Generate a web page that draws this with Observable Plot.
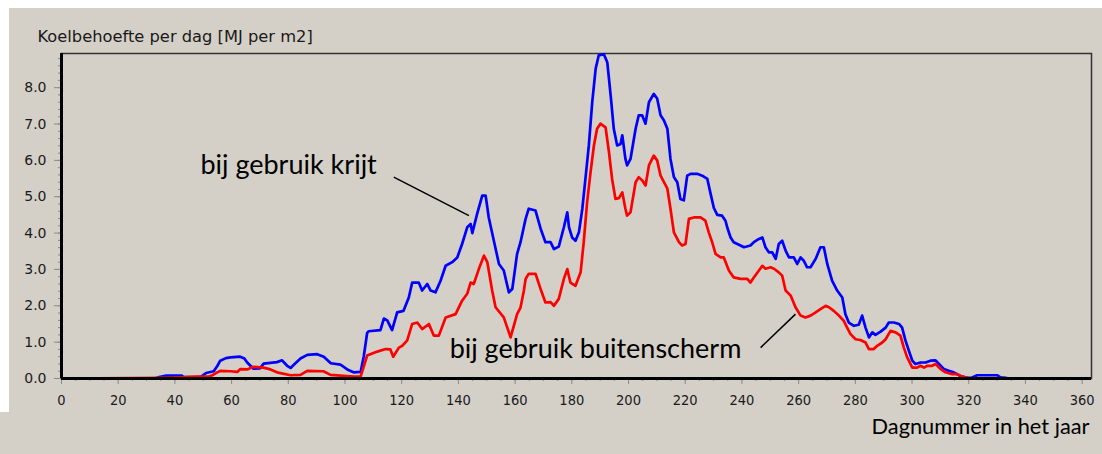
<!DOCTYPE html>
<html>
<head>
<meta charset="utf-8">
<script src="https://cdn.jsdelivr.net/npm/d3@7"></script>
<script src="https://cdn.jsdelivr.net/npm/@observablehq/plot@0.6"></script>
<style>
  html, body { margin: 0; padding: 0; background: #ffffff; }
  #chart { width: 1102px; height: 454px; }
</style>
</head>
<body>
<div id="chart"></div>
<script>
// ---- Data ----
const title = "Koelbehoefte per dag [MJ per m2]";
const xTitle = "Dagnummer in het jaar";

const xTicks = [0, 20, 40, 60, 80, 100, 120, 140, 160, 180, 200, 220, 240, 260, 280, 300, 320, 340, 360];
const yTicks = [0, 1, 2, 3, 4, 5, 6, 7, 8];

// "bij gebruik krijt" (blue)
const krijtDays = [0, 33, 34, 37, 42.5, 43, 49, 51, 53.7, 55, 56, 58, 59.6, 63, 64.5, 65.5, 67.7, 70, 71.3, 76, 77.8, 79.6, 80.8, 82.5, 84.3, 86.7, 90.2, 92.5, 95, 98.4, 100.8, 103, 105.5, 106.6, 107.8, 108.3, 112.5, 113.7, 114.9, 116.6, 118.4, 120.6, 122.5, 123.7, 126, 127.2, 129, 130.2, 131.9, 133.7, 135.5, 137.8, 139.6, 141.3, 143.1, 144.3, 144.9, 146.6, 148.4, 149.6, 150.7, 152.5, 154.3, 156, 157.8, 159, 160.7, 161.9, 163.7, 164.8, 167.2, 169, 170.7, 172.5, 173.7, 175.4, 177.2, 178.4, 179, 180.1, 181.3, 182.5, 183.7, 184.8, 186, 187.2, 188.4, 189.5, 191.3, 192.5, 193.1, 193.7, 194.8, 196, 197.2, 197.8, 198.9, 199.5, 200.7, 202.5, 203.6, 204.8, 206, 207.2, 208.9, 210.1, 211.3, 212.5, 213.7, 214.8, 216, 217.2, 218.3, 219.5, 220.7, 221.9, 224.2, 226, 227.8, 228.9, 230.1, 231.3, 233, 234.2, 234.8, 236, 237.1, 239.5, 240.7, 243, 244.2, 246, 247.2, 248.3, 249.5, 250.7, 251.9, 253, 254.2, 255.4, 256.6, 258.3, 259.5, 260.7, 261.8, 263, 264.2, 266, 267.7, 268.9, 270.1, 271.8, 273.6, 275.4, 276.5, 277.7, 279.5, 281.2, 282.4, 283.6, 284.8, 286, 287.1, 288.9, 290.7, 291.8, 293.6, 295.4, 296.5, 297.7, 298.9, 300.1, 301.2, 303, 304.8, 306.5, 308.3, 309.5, 311.2, 313, 314.7, 317.1, 319.5, 321, 323, 330, 331.2, 333, 334, 363.3];
const krijtValues = [0, 0, 0.03, 0.08, 0.08, 0.04, 0.04, 0.15, 0.2, 0.35, 0.49, 0.56, 0.58, 0.6, 0.55, 0.44, 0.27, 0.28, 0.41, 0.45, 0.5, 0.35, 0.29, 0.42, 0.55, 0.65, 0.67, 0.6, 0.42, 0.38, 0.25, 0.17, 0.18, 0.6, 1.25, 1.3, 1.33, 1.65, 1.6, 1.33, 1.82, 1.86, 2.23, 2.64, 2.64, 2.42, 2.6, 2.42, 2.37, 2.69, 3.1, 3.2, 3.33, 3.7, 4.16, 4.25, 4.0, 4.53, 5.03, 5.03, 4.43, 3.79, 3.15, 2.97, 2.37, 2.46, 3.43, 3.75, 4.39, 4.67, 4.62, 4.12, 3.75, 3.75, 3.56, 3.63, 4.16, 4.57, 4.16, 3.88, 3.79, 4.02, 4.67, 5.49, 6.41, 7.6, 8.52, 8.89, 8.92, 8.7, 8.25, 7.79, 6.87, 6.41, 6.45, 6.69, 6.04, 5.86, 6.04, 6.87, 7.24, 7.24, 7.01, 7.6, 7.83, 7.7, 7.24, 7.1, 6.87, 6.04, 5.54, 5.4, 4.94, 4.9, 5.58, 5.63, 5.63, 5.58, 5.49, 5.1, 4.69, 4.5, 4.48, 4.34, 4.16, 3.88, 3.75, 3.66, 3.61, 3.66, 3.75, 3.84, 3.88, 3.61, 3.47, 3.47, 3.29, 3.7, 3.79, 3.52, 3.33, 3.33, 3.15, 3.33, 3.24, 3.06, 3.06, 3.29, 3.61, 3.61, 3.15, 2.69, 2.42, 2.23, 1.77, 1.54, 1.45, 1.48, 1.73, 1.4, 1.13, 1.27, 1.2, 1.29, 1.4, 1.54, 1.54, 1.5, 1.4, 1.04, 0.76, 0.49, 0.4, 0.44, 0.44, 0.49, 0.5, 0.4, 0.26, 0.21, 0.17, 0.07, 0.02, 0.02, 0.09, 0.09, 0.03, 0.02, 0, 0];

// "bij gebruik buitenscherm" (red)
const schermDays = [0, 37, 42, 48, 52, 53, 54.5, 56, 59.6, 62, 63.1, 65.5, 67.7, 71.3, 73.7, 76, 80.8, 84.3, 86.7, 92.4, 94.9, 98.4, 103, 105.5, 106.5, 107.8, 111.4, 114.3, 116, 117, 119, 120.2, 121.9, 123.7, 125.5, 127.2, 129.6, 131.3, 133.1, 135.5, 139, 141.3, 143.1, 144.3, 145.4, 147.2, 149, 150.2, 151.9, 153.1, 156, 158.4, 160.7, 161.9, 163.1, 163.7, 164.8, 167.2, 169, 170.7, 172.5, 173.7, 175.4, 177.2, 178.4, 179.5, 181.3, 183.1, 184.2, 185.4, 186.6, 187.8, 188.9, 190.1, 191.9, 193.1, 194.2, 195.4, 196.6, 197.8, 198.9, 199.5, 200.7, 202.5, 203.6, 204.8, 206, 207.2, 208.9, 210.1, 211.3, 212.5, 213.7, 214.8, 216, 217.8, 218.9, 220.1, 221.3, 223, 225.4, 227.1, 228.3, 229.5, 230.7, 232.5, 233.6, 235.4, 237.1, 239.5, 241.9, 243, 244.2, 246, 247.2, 248.3, 250.1, 251.3, 253, 254.2, 255.4, 257.2, 258.9, 260.7, 262.4, 264.2, 266, 267.7, 269.5, 270.7, 272.4, 274.2, 275.9, 277.1, 278.3, 280.1, 281.8, 283.6, 284.8, 286.5, 287.7, 289.5, 290.7, 292.4, 294.2, 295.9, 297.1, 298.3, 300.1, 301.8, 303, 304.2, 305.4, 307.1, 308.3, 310.1, 311.8, 314.2, 315.9, 317.7, 319.5, 321, 363.3];
const schermValues = [0, 0.02, 0.03, 0.05, 0.05, 0.08, 0.15, 0.21, 0.2, 0.18, 0.26, 0.25, 0.32, 0.3, 0.25, 0.17, 0.09, 0.1, 0.21, 0.2, 0.1, 0.08, 0.05, 0.05, 0.3, 0.63, 0.74, 0.81, 0.8, 0.6, 0.85, 0.9, 1.04, 1.5, 1.54, 1.36, 1.5, 1.18, 1.18, 1.68, 1.77, 2.14, 2.33, 2.64, 2.6, 3.01, 3.38, 3.2, 2.42, 1.96, 1.68, 1.13, 1.77, 1.95, 2.42, 2.74, 2.88, 2.88, 2.46, 2.09, 2.1, 2.0, 2.19, 2.74, 3.01, 2.64, 2.55, 2.92, 3.75, 4.85, 5.67, 6.41, 6.87, 7.01, 6.91, 6.23, 5.49, 4.94, 4.96, 5.12, 4.67, 4.48, 4.57, 5.4, 5.54, 5.45, 5.31, 5.86, 6.13, 6.0, 5.58, 5.4, 5.22, 4.67, 4.02, 3.75, 3.66, 3.7, 4.39, 4.43, 4.43, 4.34, 4.02, 3.75, 3.43, 3.33, 3.33, 2.97, 2.78, 2.74, 2.74, 2.64, 2.78, 2.97, 3.1, 3.02, 3.06, 3.02, 2.92, 2.83, 2.42, 2.28, 1.96, 1.73, 1.68, 1.73, 1.82, 1.91, 2.0, 1.96, 1.86, 1.73, 1.59, 1.4, 1.22, 1.08, 1.06, 0.99, 0.81, 0.81, 0.9, 0.99, 1.08, 1.31, 1.27, 1.18, 0.85, 0.58, 0.3, 0.3, 0.35, 0.3, 0.35, 0.35, 0.4, 0.26, 0.17, 0.12, 0.12, 0.05, 0.02, 0, 0];

// Annotation labels and their pointer lines (data coordinates)
const labelTexts = ["bij gebruik krijt", "bij gebruik buitenscherm"];
const labelDays = [49, 136.9];
const labelValues = [5.86, 0.8];
const pointerX1 = [117.2, 246.6];
const pointerY1 = [5.54, 0.85];
const pointerX2 = [143.7, 258.9];
const pointerY2 = [4.48, 1.77];

// ---- Build tables ----
const krijt = krijtDays.map((d, i) => ({day: d, value: krijtValues[i]}));
const scherm = schermDays.map((d, i) => ({day: d, value: schermValues[i]}));
const labels = labelTexts.map((t, i) => ({text: t, day: labelDays[i], value: labelValues[i]}));
const pointers = pointerX1.map((x, i) => ({x1: x, y1: pointerY1[i], x2: pointerX2[i], y2: pointerY2[i]}));
const xMinor = d3.range(0, 363, 5);
const yMinor = d3.range(0, 8.95, 0.2);

const axisFont = "DejaVu Sans";
const xTickFont = "'Liberation Sans Narrow', 'Arial Narrow', 'DejaVu Sans Condensed', sans-serif";
const annFont = "Lato";

const chart = Plot.plot({
  width: 1102,
  height: 454,
  marginLeft: 61,
  marginRight: 11,
  marginTop: 53,
  marginBottom: 76,
  x: {domain: [0, 363.3], label: null},
  y: {domain: [0, 8.94], label: null},
  style: {fontFamily: axisFont, color: "#1a1a1a", overflow: "visible"},
  marks: [
    Plot.axisX(xMinor, {tickSize: 3, stroke: "#8a8a8a", tickFormat: () => "", label: null}),
    Plot.axisX(xTicks, {tickSize: 6, stroke: "#8a8a8a", tickPadding: 10, fontSize: 14.5, fontFamily: xTickFont, fill: "#1a1a1a", label: null}),
    Plot.axisY(yMinor, {tickSize: 3, stroke: "#8a8a8a", tickFormat: () => "", label: null}),
    Plot.axisY(yTicks, {tickSize: 7, stroke: "#8a8a8a", tickPadding: 8, fontSize: 14, fontFamily: axisFont, fill: "#1a1a1a", tickFormat: d3.format(".1f"), label: null}),
    Plot.frame({stroke: "#333", strokeWidth: 1.5}),
    Plot.line(krijt, {x: "day", y: "value", stroke: "#0000ff", strokeWidth: 2.7, clip: true}),
    Plot.line(scherm, {x: "day", y: "value", stroke: "#ff0000", strokeWidth: 2.7, clip: true}),
    Plot.ruleX([0], {stroke: "#000", strokeWidth: 3}),
    Plot.ruleY([0], {stroke: "#000", strokeWidth: 3}),
    Plot.link(pointers, {x1: "x1", y1: "y1", x2: "x2", y2: "y2", stroke: "#000", strokeWidth: 1.5}),
    Plot.text(labels, {x: "day", y: "value", text: "text", textAnchor: "start", fontSize: 27, fontFamily: annFont, fill: "#000"}),
    Plot.text([title], {frameAnchor: "top-left", dx: -24, dy: -23, textAnchor: "start", fontSize: 16.3, fontFamily: axisFont, fill: "#1a1a1a"}),
    Plot.text([xTitle], {frameAnchor: "bottom-right", dx: -2, dy: 55, textAnchor: "end", fontSize: 21.8, fontFamily: annFont, fill: "#000"})
  ]
});
chart.style.background = "linear-gradient(#fff,#fff) 0 0 / 100% 8px no-repeat, linear-gradient(#fff,#fff) 0 0 / 9px 412px no-repeat, #d4d0c8";
chart.style.maxWidth = "none";
document.getElementById("chart").appendChild(chart);
</script>
</body>
</html>
